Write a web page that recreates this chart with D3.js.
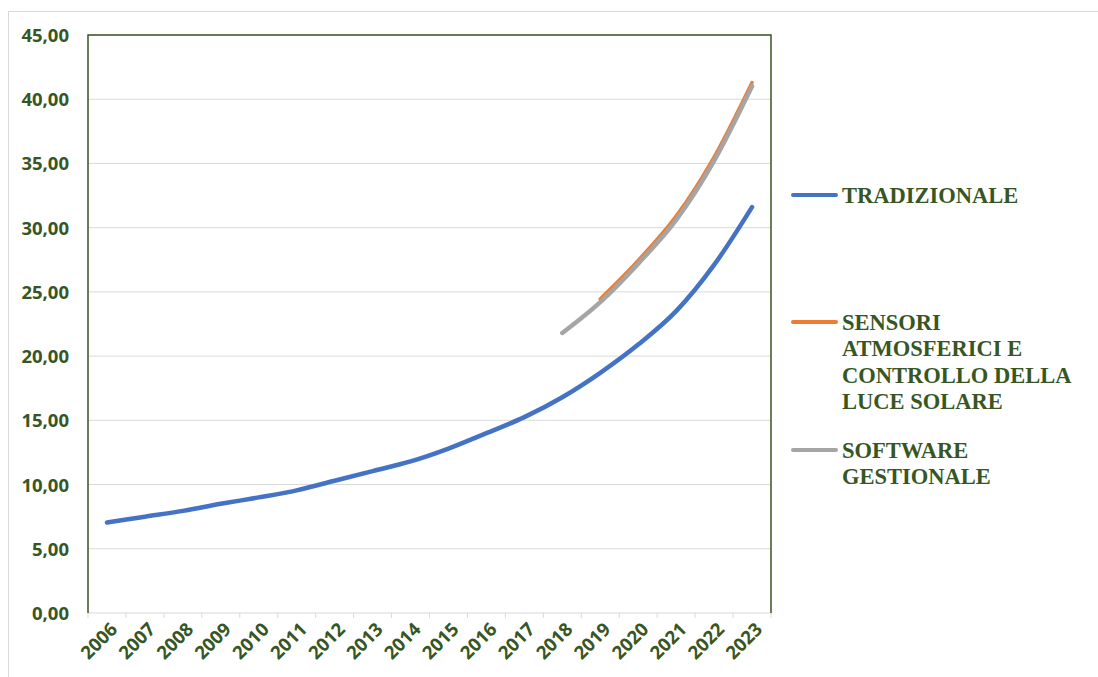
<!DOCTYPE html>
<html><head><meta charset="utf-8">
<script src="https://cdn.jsdelivr.net/npm/d3@7"></script>
<style>body{margin:0;background:#fff}svg{display:block}</style>
</head><body>
<script>
const years = ["2006","2007","2008","2009","2010","2011","2012","2013","2014","2015","2016","2017","2018","2019","2020","2021","2022","2023"];
const tradizionale = [7.05,7.5,7.95,8.5,9.0,9.55,10.3,11.05,11.8,12.8,14.0,15.25,16.8,18.7,20.9,23.5,27.1,31.6];
const sensori = [null,null,null,null,null,null,null,null,null,null,null,null,null,24.45,27.45,30.9,35.5,41.3];
const software = [null,null,null,null,null,null,null,null,null,null,null,null,21.8,24.2,27.2,30.6,35.2,41.0];
const yTicks = [0,5,10,15,20,25,30,35,40,45];
const seriesNames = [["TRADIZIONALE"],["SENSORI","ATMOSFERICI E","CONTROLLO DELLA","LUCE SOLARE"],["SOFTWARE","GESTIONALE"]];
const colors = ["#4472c4","#ed7d31","#a5a5a5"];

const W=1098,H=677;
const svg=d3.select("body").append("svg").attr("width",W).attr("height",H);
svg.append("rect").attr("x",8.5).attr("y",11.5).attr("width",W+10).attr("height",H+10).attr("fill","#fff").attr("stroke","#d9d9d9").attr("stroke-width",1);

const L=88,R=771,T=35,B=613;
const x=d3.scaleBand().domain(years).range([L,R]);
const y=d3.scaleLinear().domain([0,45]).range([B,T]);
const green="#375623";

svg.append("g").selectAll("line").data(yTicks).join("line")
  .attr("x1",L).attr("x2",R).attr("y1",d=>y(d)).attr("y2",d=>y(d))
  .attr("stroke","#d9d9d9").attr("stroke-width",1);

const fmt=d=>d3.format(".2f")(d).replace(".",",");
const ya=svg.append("g").attr("transform",`translate(${L},0)`).call(d3.axisLeft(y).tickValues(yTicks).tickFormat(fmt).tickSize(0).tickPadding(19));
ya.select(".domain").remove();
ya.attr("font-size",null);
ya.selectAll("text").attr("fill",green).style("font-family","'Open Sans', sans-serif").style("font-weight","bold").style("font-size","18.5px").attr("dy","0.35em");

const xa=svg.append("g").attr("transform",`translate(0,${B})`).call(d3.axisBottom(x).tickSize(0).tickPadding(0));
xa.select(".domain").remove();
xa.attr("font-size",null);
xa.selectAll("text").attr("fill",green).style("font-family","'Open Sans', sans-serif").style("font-weight","bold").style("font-size","18.5px")
  .attr("text-anchor","end").attr("dy",0).attr("dx",0)
  .attr("transform","translate(8,14) rotate(-45)").attr("dominant-baseline","middle");
const bounds=years.map(d=>x(d)).concat([R]);
svg.append("g").selectAll("line").data(bounds).join("line")
  .attr("x1",d=>d).attr("x2",d=>d).attr("y1",B).attr("y2",B+5).attr("stroke","#d9d9d9");

svg.append("path").attr("d",`M${L},${B}V${T}H${R}V${B}`).attr("fill","none").attr("stroke",green).attr("stroke-width",1.5);

const line=d3.line().defined(d=>d[1]!=null).x(d=>x(d[0])+x.bandwidth()/2).y(d=>y(d[1])).curve(d3.curveMonotoneX);
[tradizionale,sensori,software].forEach((s,i)=>{
  svg.append("path").datum(years.map((yr,j)=>[yr,s[j]])).attr("d",line)
    .attr("fill","none").attr("stroke",colors[i]).attr("stroke-width",i==1?3.5:4.5).attr("stroke-linecap","round");
});

const legY=[195,322,450];
seriesNames.forEach((lines,i)=>{
  svg.append("line").attr("x1",793).attr("x2",836).attr("y1",legY[i]).attr("y2",legY[i])
    .attr("stroke",colors[i]).attr("stroke-width",4).attr("stroke-linecap","round");
  const t=svg.append("text").attr("x",842).attr("y",legY[i]).attr("fill",green)
    .attr("font-family","'Liberation Serif', serif").attr("font-weight","bold").attr("font-size","22.5px")
    .attr("dominant-baseline","central");
  lines.forEach((ln,k)=>t.append("tspan").attr("x",842).attr("dy",k==0?0:26.3).text(ln));
});
</script>
</body></html>
